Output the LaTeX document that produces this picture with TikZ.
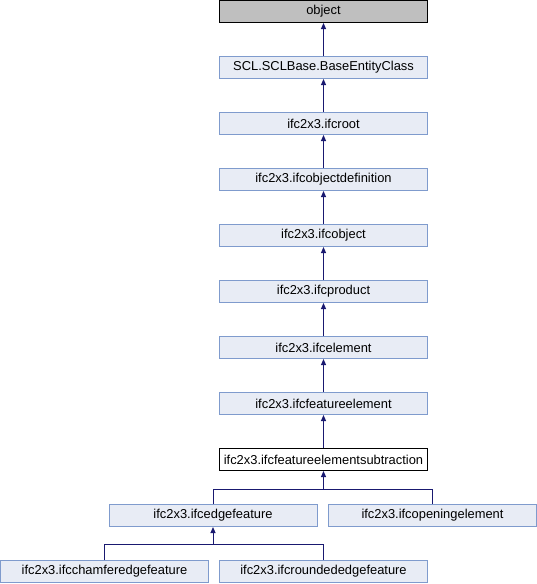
\documentclass[tikz,border=0pt]{standalone}
\usepackage{fontspec}
\setmainfont{Liberation Sans}
\usetikzlibrary{arrows.meta}
\definecolor{boxfill}{HTML}{E8ECF5}
\definecolor{boxline}{HTML}{7F9BCD}
\definecolor{edgeblue}{HTML}{191970}
\definecolor{rootfill}{HTML}{BFBFBF}
\tikzset{
  cls/.style={draw=boxline, fill=boxfill, line width=1pt, minimum width=208pt,
    minimum height=22pt, inner sep=0pt, font=\fontsize{12.9}{14}\selectfont},
  rootcls/.style={cls, draw=black, fill=rootfill},
  curcls/.style={cls, draw=black, fill=white},
  inh/.style={draw=edgeblue, line width=1pt, -{Triangle[length=6pt,width=5pt]}},
  link/.style={draw=edgeblue, line width=1pt}
}
\begin{document}
\begin{tikzpicture}[x=1pt,y=-1pt]
  \useasboundingbox (0,0) rectangle (537,584);
  % main chain
  \node[rootcls] (obj)  at (323.5, 11.5) {object};
  \node[cls]     (scl)  at (323.5, 67.5) {SCL.SCLBase.BaseEntityClass};
  \node[cls]     (root) at (323.5,123.5) {ifc2x3.ifcroot};
  \node[cls]     (odef) at (323.5,179.5) {ifc2x3.ifcobjectdefinition};
  \node[cls]     (ob)   at (323.5,235.5) {ifc2x3.ifcobject};
  \node[cls]     (prod) at (323.5,291.5) {ifc2x3.ifcproduct};
  \node[cls]     (elem) at (323.5,347.5) {ifc2x3.ifcelement};
  \node[cls]     (feat) at (323.5,403.5) {ifc2x3.ifcfeatureelement};
  \node[curcls]  (sub)  at (323.5,459.5) {ifc2x3.ifcfeatureelementsubtraction};
  % subclasses
  \node[cls]     (edge) at (213,515.5) {ifc2x3.ifcedgefeature};
  \node[cls]     (open) at (432.5,515.5) {ifc2x3.ifcopeningelement};
  \node[cls]     (cham) at (104.5,571.5) {ifc2x3.ifcchamferedgefeature};
  \node[cls]     (rnd)  at (323.5,571.5) {ifc2x3.ifcroundededgefeature};
  % inheritance edges
  \draw[inh] (scl.north)  -- (obj.south);
  \draw[inh] (root.north) -- (scl.south);
  \draw[inh] (odef.north) -- (root.south);
  \draw[inh] (ob.north)   -- (odef.south);
  \draw[inh] (prod.north) -- (ob.south);
  \draw[inh] (elem.north) -- (prod.south);
  \draw[inh] (feat.north) -- (elem.south);
  \draw[inh] (sub.north)  -- (feat.south);
  \draw[link] (open.north) |- (323.5,489) coordinate (subbar);
  \draw[inh] (edge.north) |- (subbar) -- (sub.south);
  \draw[link] (rnd.north) |- (213,544) coordinate (edgebar);
  \draw[inh] (cham.north) |- (edgebar) -- (edge.south);
\end{tikzpicture}
\end{document}
